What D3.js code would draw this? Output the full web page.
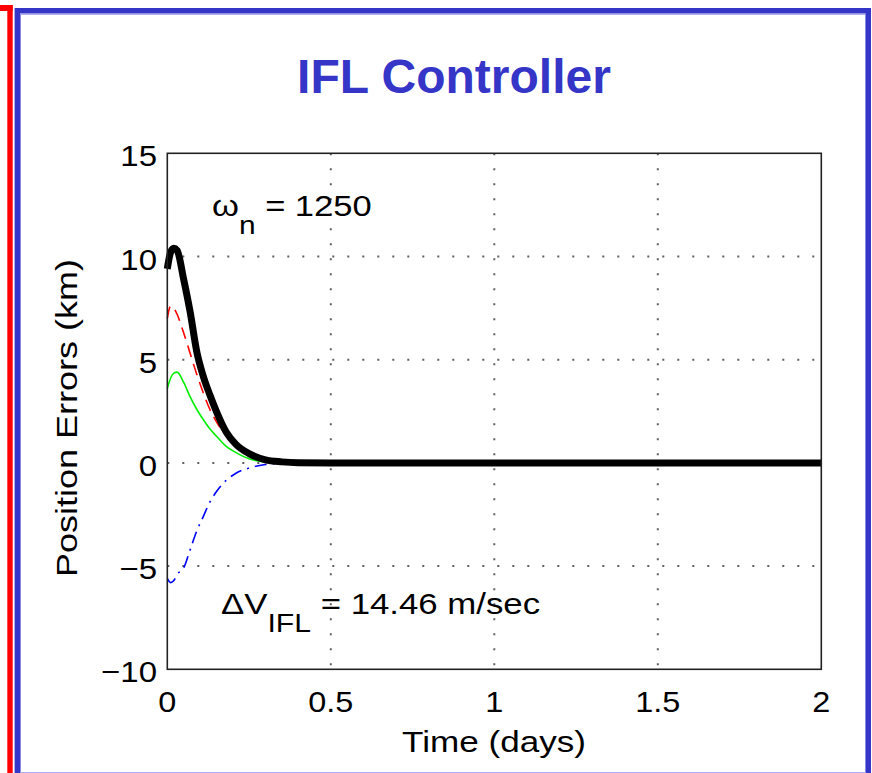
<!DOCTYPE html>
<html>
<head>
<meta charset="utf-8">
<script src="https://cdn.jsdelivr.net/npm/d3@7"></script>
<style>
  body { margin: 0; background: #fff; }
  svg { display: block; }
  text { font-family: "Liberation Sans", Arial, sans-serif; }
</style>
</head>
<body>
<svg id="chart" width="872" height="773"></svg>
<script>
// values
const times = [0, 0.01, 0.02, 0.03, 0.05, 0.07, 0.09, 0.11, 0.13, 0.15, 0.18, 0.21, 0.25, 0.3, 0.35, 0.4, 0.5, 1.0, 1.5, 2.0];
const blackErr = [9.4, 10.2, 10.4, 10.3, 8.9, 7.3, 5.4, 4.2, 3.3, 2.5, 1.5, 0.9, 0.45, 0.15, 0.05, 0.01, 0, 0, 0, 0];
const redErr = [7.0, 7.6, 7.5, 7.2, 6.3, 5.3, 4.3, 3.4, 2.6, 2.0, 1.3, 0.8, 0.4, 0.15, 0.05, 0.01, 0, 0, 0, 0];
const greenErr = [3.6, 4.1, 4.35, 4.4, 3.9, 3.2, 2.6, 2.1, 1.65, 1.3, 0.8, 0.5, 0.2, 0.05, 0.01, 0, 0, 0, 0, 0];
const blueErr = [-5.6, -5.8, -5.7, -5.4, -5.1, -4.2, -3.3, -2.6, -1.9, -1.4, -0.85, -0.5, -0.25, -0.08, -0.02, 0, 0, 0, 0, 0];
const xTicks = [0, 0.5, 1, 1.5, 2];
const yTicks = [-10, -5, 0, 5, 10, 15];

const svg = d3.select("#chart");

// the original text is wider than Arial, so stretch each label to its span
// anchor: 0 = start, 0.5 = middle, 1 = end
const stretchText = (parent, x, y, rotate, sx, anchor) => {
  const g = parent.append("g").attr("transform", `translate(${x},${y}) rotate(${rotate}) scale(${sx},1)`);
  return g.append("text").attr("text-anchor", ["start", "middle", "end"][anchor * 2]);
};

// frames
const blue = "#3535c8";
svg.append("rect").attr("x", 7.3).attr("y", 5).attr("width", 5.4).attr("height", 770).attr("fill", "#ff0000");
svg.append("rect").attr("x", 0).attr("y", 5).attr("width", 12.7).attr("height", 6).attr("fill", "#ff0000");
svg.append("path")
  .attr("d", "M17.3,780 V10.8 H868.3 V780")
  .attr("fill", "none").attr("stroke", blue).attr("stroke-width", 5.4);
svg.append("path")
  .attr("d", "M20.5,780 V14.2 H865.5 V780")
  .attr("fill", "none").attr("stroke", "#8a8ae6").attr("stroke-width", 1);
svg.append("line").attr("x1", 20).attr("x2", 866).attr("y1", 772.5).attr("y2", 772.5)
  .attr("stroke", "#aaaaf0").attr("stroke-width", 1);

svg.append("text").attr("x", 454).attr("y", 93).attr("text-anchor", "middle")
  .attr("font-size", 48).attr("font-weight", "bold").attr("fill", blue)
  .text("IFL Controller");

const x = d3.scaleLinear().domain([0, 2]).range([167.3, 821.3]);
const y = d3.scaleLinear().domain([-10, 15]).range([669.3, 153.3]);

// grid
const g = svg.append("g");
g.selectAll(".hgrid").data(yTicks.filter(v => v > -10 && v < 15)).join("line")
  .attr("x1", x(0)).attr("x2", x(2)).attr("y1", d => y(d)).attr("y2", d => y(d))
  .attr("stroke", "#606060").attr("stroke-width", 2).attr("stroke-dasharray", "2,13");
g.selectAll(".vgrid").data(xTicks.filter(v => v > 0 && v < 2)).join("line")
  .attr("y1", y(15)).attr("y2", y(-10)).attr("x1", d => x(d)).attr("x2", d => x(d))
  .attr("stroke", "#606060").attr("stroke-width", 2).attr("stroke-dasharray", "2,13");

// tick labels
yTicks.forEach(d => {
  stretchText(svg, 157, y(d) + 13, 0, 1.1, 1)
    .attr("font-size", 30).text(d < 0 ? "\u2212" + Math.abs(d) : d);
});
xTicks.forEach(d => {
  stretchText(svg, x(d), 712, 0, 1.08, 0.5)
    .attr("font-size", 30).text(d);
});

stretchText(svg, 494, 752, 0, 1.17, 0.5).attr("font-size", 30).text("Time (days)");
stretchText(svg, 77, 418, -90, 1.2, 0.5).attr("font-size", 30).text("Position Errors (km)");

// curves
const line = d3.line().x((d, i) => x(times[i])).y(d => y(d)).curve(d3.curveMonotoneX);
const plot = svg.append("g");
plot.append("path").datum(blueErr).attr("d", line).attr("fill", "none")
  .attr("stroke", "#0000ff").attr("stroke-width", 1.6).attr("stroke-dasharray", "12,6,2,6");
plot.append("path").datum(greenErr).attr("d", line).attr("fill", "none")
  .attr("stroke", "#00ee00").attr("stroke-width", 1.6);
plot.append("path").datum(redErr).attr("d", line).attr("fill", "none")
  .attr("stroke", "#ff0000").attr("stroke-width", 1.6).attr("stroke-dasharray", "12,7");
plot.append("path").datum(blackErr).attr("d", line).attr("fill", "none")
  .attr("stroke", "#000").attr("stroke-width", 7).attr("stroke-linejoin", "round");

// axes box
svg.append("rect").attr("x", x(0)).attr("y", y(15)).attr("width", x(2) - x(0)).attr("height", y(-10) - y(15))
  .attr("fill", "none").attr("stroke", "#222").attr("stroke-width", 1.6);

// annotations
const a1 = stretchText(svg, 212, 216, 0, 1.15, 0).attr("font-size", 30);
a1.append("tspan").text("\u03c9");
a1.append("tspan").attr("dy", 18).attr("font-size", 26).text("n");
a1.append("tspan").attr("dy", -18).text(" = 1250");

const a2 = stretchText(svg, 221, 614, 0, 1.16, 0).attr("font-size", 30);
a2.append("tspan").text("\u0394V");
a2.append("tspan").attr("dy", 18).attr("font-size", 26).text("IFL");
a2.append("tspan").attr("dy", -18).text(" = 14.46 m/sec");
</script>
</body>
</html>
